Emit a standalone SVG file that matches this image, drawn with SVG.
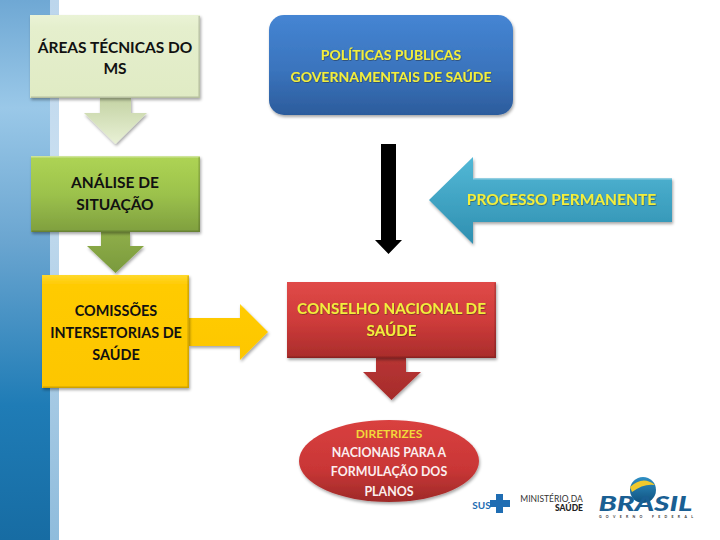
<svg xmlns="http://www.w3.org/2000/svg" width="720" height="540" viewBox="0 0 720 540">
<style>
text{font-family:"Lato","Open Sans","Liberation Sans",sans-serif;font-weight:700;text-anchor:middle}
.k{fill:#111;font-size:15.500px}
.k2{fill:#111;font-size:14.400px}
.y{fill:#f2ee3c;filter:url(#ts)}
.w{fill:#fbeeee;font-size:12.400px}
.s{filter:url(#sh)}
.hi{stroke:#fff;stroke-opacity:.4;stroke-width:1.500;fill:none}
.lo{stroke:#000;stroke-opacity:.18;stroke-width:1.500;fill:none}
</style>
<defs>
<filter id="sh" x="-10%" y="-10%" width="120%" height="125%"><feDropShadow dx="1" dy="2" stdDeviation="1.500" flood-color="#000" flood-opacity=".35"/></filter>
<filter id="ts" x="-5%" y="-20%" width="110%" height="140%"><feDropShadow dx=".5" dy=".7" stdDeviation=".4" flood-color="#222" flood-opacity=".55"/></filter>
<linearGradient id="side" x1="0" y1="0" x2="0" y2="1"><stop offset="0" stop-color="#6fa8d4"/><stop offset=".2" stop-color="#9ac8e8"/><stop offset=".45" stop-color="#6aa5d0"/><stop offset=".75" stop-color="#1f7cb6"/><stop offset="1" stop-color="#176ca3"/></linearGradient>
<linearGradient id="strip" x1="0" y1="0" x2="0" y2="1"><stop offset="0" stop-color="#bcd6ec"/><stop offset=".3" stop-color="#c8def0"/><stop offset="1" stop-color="#8fbcdc"/></linearGradient>
<linearGradient id="blue" x1="0" y1="0" x2="0" y2="1"><stop offset="0" stop-color="#4585d3"/><stop offset=".55" stop-color="#3a74bd"/><stop offset="1" stop-color="#2c5c9c"/></linearGradient>
<linearGradient id="red" x1="0" y1="0" x2="0" y2="1"><stop offset="0" stop-color="#e04a48"/><stop offset=".5" stop-color="#cf3c3b"/><stop offset="1" stop-color="#a92c2b"/></linearGradient>
<linearGradient id="redA" x1="0" y1="0" x2="0" y2="1"><stop offset="0" stop-color="#b83534"/><stop offset="1" stop-color="#a52b2a"/></linearGradient>
<linearGradient id="oval" x1="0" y1="0" x2="0" y2="1"><stop offset="0" stop-color="#d9403f"/><stop offset=".6" stop-color="#c93636"/><stop offset="1" stop-color="#9e2a28"/></linearGradient>
<linearGradient id="pale" x1="0" y1="0" x2="0" y2="1"><stop offset="0" stop-color="#eaf3d6"/><stop offset=".15" stop-color="#e5efcd"/><stop offset="1" stop-color="#e0ebc4"/></linearGradient>
<linearGradient id="paleA" x1="0" y1="0" x2="0" y2="1"><stop offset="0" stop-color="#c4d3a4"/><stop offset="1" stop-color="#e9f1d6"/></linearGradient>
<linearGradient id="grn" x1="0" y1="0" x2="0" y2="1"><stop offset="0" stop-color="#aed454"/><stop offset=".5" stop-color="#9cc24c"/><stop offset="1" stop-color="#7f9f3f"/></linearGradient>
<linearGradient id="grnA" x1="0" y1="0" x2="0" y2="1"><stop offset="0" stop-color="#8fae49"/><stop offset="1" stop-color="#7a9a3d"/></linearGradient>
<linearGradient id="gold" x1="0" y1="0" x2="0" y2="1"><stop offset="0" stop-color="#ffd92b"/><stop offset=".08" stop-color="#ffcb05"/><stop offset="1" stop-color="#fdc600"/></linearGradient>
<linearGradient id="cyan" x1="0" y1="0" x2="0" y2="1"><stop offset="0" stop-color="#52b8d6"/><stop offset="1" stop-color="#2f8fb0"/></linearGradient>
<linearGradient id="globe" x1="0" y1="0" x2="0" y2="1"><stop offset="0" stop-color="#2f8fc4"/><stop offset="1" stop-color="#10527f"/></linearGradient>
</defs>
<rect width="720" height="540" fill="#fff"/>
<rect id="sidebar" x="0" y="0" width="50" height="540" fill="url(#side)"/>
<rect id="sidebar-strip" x="50" y="0" width="9" height="540" fill="url(#strip)"/>
<g id="connectors">
<path class="s" d="M100 98V113H84L115.500 144L147 113H131V98Z" fill="url(#paleA)"/>
<path class="s" d="M101 232V246H87L115.500 273L144 246H130V232Z" fill="url(#grnA)"/>
<path class="s" d="M189 318H240V304L268 332L240 360V346H189Z" fill="url(#gold)"/>
<path id="black-arrow" d="M381 144H396V240H402L388.500 254L375 240H381Z" fill="#000"/>
<path class="s" d="M376 358V372H363L391.500 400L421 372H406V358Z" fill="url(#redA)"/>
</g>
<g id="areas-tecnicas"><rect class="s" x="30" y="15" width="170" height="83" fill="url(#pale)"/><path class="lo" d="M30.800 97.200H199.200V16"/><text class="k" x="115" y="53">ÁREAS TÉCNICAS DO</text><text class="k" x="115" y="74">MS</text></g>
<g id="analise"><rect class="s" x="31" y="156" width="169" height="76" fill="url(#grn)"/><path class="hi" d="M31 156.800H200"/><path class="lo" d="M31.800 231.200H199.200V157"/><text class="k" x="115" y="188">ANÁLISE DE</text><text class="k" x="115" y="210">SITUAÇÃO</text></g>
<g id="comissoes"><rect class="s" x="42" y="275" width="147" height="113" fill="url(#gold)"/><path class="lo" d="M42.800 387.200H188.200V276"/><text class="k2" x="116" y="316">COMISSÕES</text><text class="k2" x="116" y="338">INTERSETORIAS DE</text><text class="k2" x="116" y="360">SAÚDE</text></g>
<g id="politicas"><rect class="s" x="269" y="15" width="244" height="100" rx="15" fill="url(#blue)"/><text class="y" x="391" y="60" style="font-size:14px">POLÍTICAS PUBLICAS</text><text class="y" x="391" y="82" style="font-size:14px">GOVERNAMENTAIS DE SAÚDE</text></g>
<g id="processo"><path class="s" d="M429 200L473 157V178H672V222H473V244Z" fill="url(#cyan)"/><path class="hi" d="M473 178.800H672"/><text class="y" x="561.500" y="205" style="font-size:15.500px">PROCESSO PERMANENTE</text></g>
<g id="conselho"><rect class="s" x="287" y="282" width="209" height="76" fill="url(#red)"/><path class="lo" d="M287.800 357.200H495.200V283"/><text class="y" x="391.500" y="314" style="font-size:15.200px">CONSELHO NACIONAL DE</text><text class="y" x="391.500" y="336" style="font-size:15.200px">SAÚDE</text></g>
<g id="diretrizes"><ellipse class="s" cx="389" cy="461" rx="90" ry="41" fill="url(#oval)"/><text x="389" y="438" style="font-size:12px" fill="#f2d93a">DIRETRIZES</text><text class="w" x="389" y="457">NACIONAIS PARA A</text><text class="w" x="389" y="476">FORMULAÇÃO DOS</text><text class="w" x="389" y="496">PLANOS</text></g>
<g id="logo-sus"><text x="481.500" y="509" style="font-size:10px" fill="#1f6db3">SUS</text><path d="M496 494h7v6h7v7h-7v6h-7v-6h-6v-7h6z" fill="#1f6db3"/></g>
<g id="logo-ministerio"><text x="551.500" y="502" style="font-size:8.500px;font-weight:400" fill="#333">MINISTÉRIO DA</text><text x="583" y="511" style="font-size:8.500px;text-anchor:end;font-weight:900" fill="#222">SAÚDE</text></g>
<g id="logo-brasil"><circle cx="643" cy="490" r="13" fill="url(#globe)"/><path d="M630 487Q643 475 655 485Q644 483 632 492Z" fill="#f0c92e"/><text x="645.500" y="511" style="font-size:20px;font-style:italic;font-weight:900" fill="#1a5f93" textLength="94" lengthAdjust="spacingAndGlyphs">BRASIL</text><text x="646" y="518" style="font-size:3.500px" fill="#333" textLength="94">GOVERNO FEDERAL</text></g>
</svg>
